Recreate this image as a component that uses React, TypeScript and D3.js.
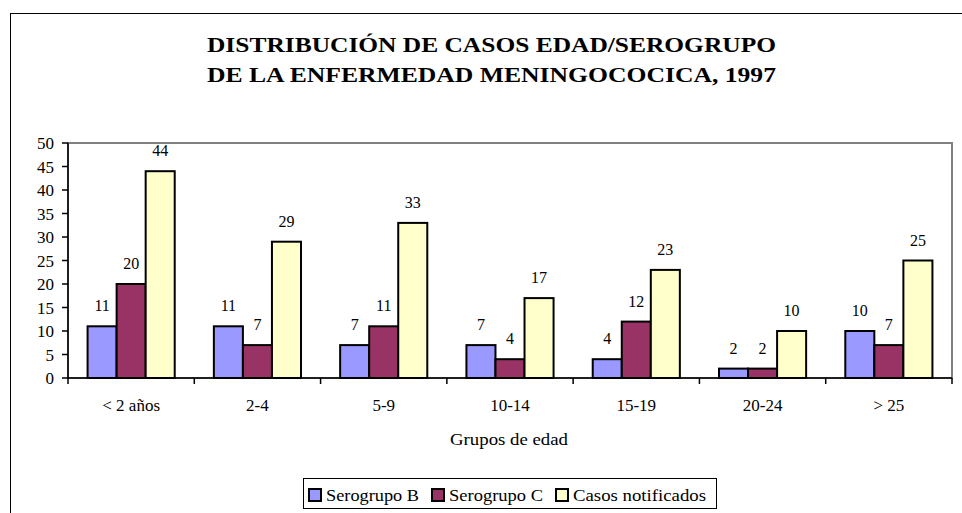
import React from "react";
import * as d3 from "d3";

const categories = ["< 2 años", "2-4", "5-9", "10-14", "15-19", "20-24", "> 25"];
const serieNames = ["Serogrupo B", "Serogrupo C", "Casos notificados"];
const serogrupoB = [11, 11, 7, 7, 4, 2, 10];
const serogrupoC = [20, 7, 11, 4, 12, 2, 7];
const casosNotificados = [44, 29, 33, 17, 23, 10, 25];
const colors = ["#9999FF", "#993366", "#FFFFCC"];
const yTicks = [0, 5, 10, 15, 20, 25, 30, 35, 40, 45, 50];
const titleLines = ["DISTRIBUCIÓN DE CASOS EDAD/SEROGRUPO", "DE LA ENFERMEDAD MENINGOCOCICA, 1997"];
const xTitle = "Grupos de edad";

const W = 962;
const H = 513;
const plot = { left: 68, right: 952, top: 143, bottom: 378 };
const font = "Liberation Serif, DejaVu Serif, Times New Roman, serif";
const ts = { fontFamily: font };

export default function App() {
  const series = [serogrupoB, serogrupoC, casosNotificados];
  const x = d3.scaleBand<string>().domain(categories).range([plot.left, plot.right]).paddingInner(0.31).paddingOuter(0.155);
  const inner = d3.scaleBand<number>().domain([0, 1, 2]).range([0, x.bandwidth()]);
  const y = d3.scaleLinear().domain([0, 50]).range([plot.bottom, plot.top]);
  const step = (plot.right - plot.left) / categories.length;

  const legendItems = [
    { x: 309, len: 93, label: serieNames[0] },
    { x: 432, len: 94, label: serieNames[1] },
    { x: 556, len: 133, label: serieNames[2] },
  ];

  return (
    <svg width={W} height={H} style={{ position: "absolute", left: 0, top: 0, background: "#fff", fontFamily: font }}>
      <rect x={0} y={0} width={W} height={H} fill="#fff" />
      <rect x={10.5} y={13.5} width={W + 20} height={H + 20} fill="none" stroke="#000" strokeWidth={1} />
      {titleLines.map((t, i) => (
        <text key={i} style={ts} x={207} y={52 + i * 30} textLength={569} lengthAdjust="spacingAndGlyphs" fontSize={22} fontWeight="bold" fill="#000">
          {t}
        </text>
      ))}
      <rect x={plot.left} y={plot.top} width={plot.right - plot.left} height={plot.bottom - plot.top} fill="none" stroke="#808080" strokeWidth={2} />
      <line x1={plot.left} x2={plot.left} y1={plot.top} y2={plot.bottom} stroke="#000" strokeWidth={1.5} />
      {yTicks.map((t) => (
        <g key={t}>
          <line x1={plot.left - 6} x2={plot.left} y1={y(t)} y2={y(t)} stroke="#000" strokeWidth={1.5} />
          <text style={ts} x={54} y={y(t) + 6} textAnchor="end" fontSize={17} fill="#000">
            {t}
          </text>
        </g>
      ))}
      {categories.map((c, ci) => (
        <g key={c}>
          {series.map((s, si) => {
            const bx = (x(c) as number) + (inner(si) as number);
            const by = y(s[ci]);
            return (
              <g key={si}>
                <rect x={bx} y={by} width={inner.bandwidth()} height={plot.bottom - by} fill={colors[si]} stroke="#000" strokeWidth={2} />
                <text style={ts} x={bx + inner.bandwidth() / 2} y={by - 15} textAnchor="middle" fontSize={16} fill="#000">
                  {s[ci]}
                </text>
              </g>
            );
          })}
        </g>
      ))}
      <line x1={plot.left} x2={plot.right} y1={plot.bottom} y2={plot.bottom} stroke="#000" strokeWidth={1.5} />
      {d3.range(categories.length + 1).map((i) => (
        <line key={i} x1={plot.left + i * step} x2={plot.left + i * step} y1={plot.bottom} y2={plot.bottom + 6} stroke="#000" strokeWidth={1.5} />
      ))}
      {categories.map((c) => (
        <text key={c} style={ts} x={(x(c) as number) + x.bandwidth() / 2} y={411} textAnchor="middle" fontSize={17} fill="#000">
          {c}
        </text>
      ))}
      <text style={ts} x={509} y={445} textAnchor="middle" fontSize={17} textLength={118} lengthAdjust="spacingAndGlyphs" fill="#000">
        {xTitle}
      </text>
      <rect x={303.5} y={478.5} width={413} height={30} fill="#fff" stroke="#000" strokeWidth={1} />
      {legendItems.map((it, i) => (
        <g key={i}>
          <rect x={it.x} y={489} width={12} height={12} fill={colors[i]} stroke="#000" strokeWidth={2} />
          <text style={ts} x={it.x + 17} y={501} fontSize={17} textLength={it.len} lengthAdjust="spacingAndGlyphs" fill="#000">
            {it.label}
          </text>
        </g>
      ))}
    </svg>
  );
}
